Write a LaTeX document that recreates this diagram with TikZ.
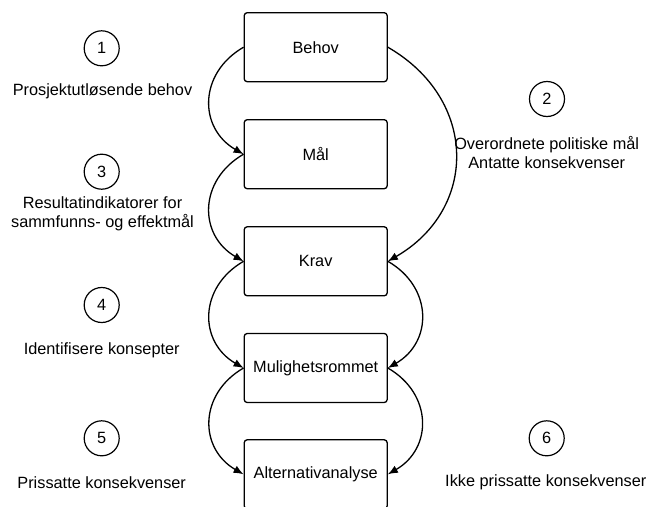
\documentclass[tikz,border=0pt]{standalone}
\usepackage{fontspec}
\setmainfont{Liberation Sans}
\usetikzlibrary{arrows.meta,positioning}

\begin{document}
\begin{tikzpicture}[x=1pt,y=1pt,
  every node/.style={font=\fontsize{16.3}{19}\selectfont},
  stage/.style={draw, rounded corners=3pt, line width=1.3pt,
                minimum width=143pt, minimum height=69pt, inner sep=0pt},
  num/.style={draw, circle, line width=1.2pt, minimum size=35pt, inner sep=0pt},
  note/.style={align=center},
  flow/.style={line width=1.3pt, looseness=1.25, -{Latex[length=10pt,width=8pt]}}]
\useasboundingbox (0,0) rectangle (647,-506);
\clip (0,0) rectangle (647,-506);
% stages
\node[stage] (behov) at (315.7, -47.2) {Behov};
\node[stage] (maal)  at (315.7,-154.2) {Mål};
\node[stage] (krav)  at (315.7,-261.3) {Krav};
\node[stage] (mulig) at (315.7,-368.0) {Mulighetsrommet};
\node[stage] (alt)   at (315.7,-474.3) {Alternativanalyse};
% numbers and notes
\node[num] (n1) at (101.7, -48.3) {1};
\node[note] (t1) at (102.5, -91.7) {Prosjektutløsende behov};
\node[num] (n2) at (547.0, -99.0) {2};
\node[note] (t2) at (546.7,-152.5) {Overordnete politiske mål\\Antatte konsekvenser};
\node[num] (n3) at (101.7,-171.7) {3};
\node[note] (t3) at (102.5,-213.5) {Resultatindikatorer for\\sammfunns- og effektmål};
\node[num] (n4) at (101.7,-305.0) {4};
\node[note] (t4) at (101.7,-350.0) {Identifisere konsepter};
\node[num] (n5) at (101.7,-438.3) {5};
\node[note] (t5) at (101.7,-482.7) {Prissatte konsekvenser};
\node[num] (n6) at (546.7,-438.3) {6};
\node[note] (t6) at (545.8,-482.4) {Ikke prissatte konsekvenser};
% connectors
\draw[flow] (behov.west) to[out=210,in=150] (maal.west);
\draw[flow] (maal.west)  to[out=210,in=150] (krav.west);
\draw[flow] (krav.west)  to[out=210,in=150] (mulig.west);
\draw[flow] (mulig.west) to[out=210,in=150] (alt.west);
\draw[flow] (behov.east) to[out=-30,in=30] (krav.east);
\draw[flow] (krav.east)  to[out=-30,in=30] (mulig.east);
\draw[flow] (mulig.east) to[out=-30,in=30] (alt.east);
\end{tikzpicture}
\end{document}
